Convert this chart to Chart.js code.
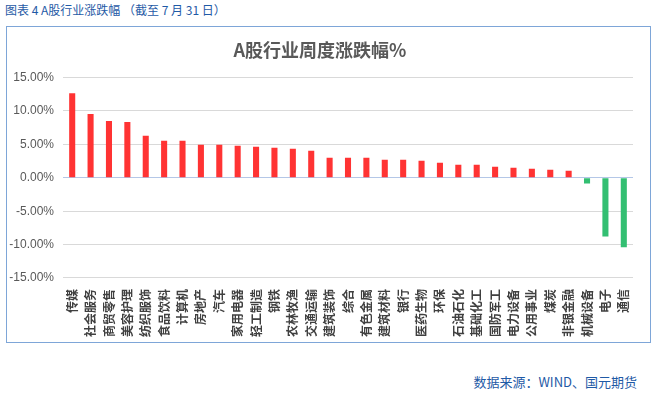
<!DOCTYPE html>
<html>
<head>
<meta charset="utf-8">
<script src="https://cdn.jsdelivr.net/npm/chart.js@4.4.0/dist/chart.umd.min.js"></script>
<style>
  html, body { margin: 0; padding: 0; background: #fff; width: 657px; height: 402px; overflow: hidden; }
  #hdr { position: absolute; left: 5px; top: 1px; font: 12px "Noto Sans CJK SC", sans-serif; color: #1f5aa6; white-space: pre; }
  #box { position: absolute; left: 6px; top: 26px; width: 643px; height: 315px; border: 1px solid #7ea6d8; }
  #ftr { position: absolute; right: 20px; top: 372px; font: 13px "Noto Sans CJK SC", sans-serif; color: #1f5aa6; white-space: pre; }
  canvas { display: block; }
</style>
</head>
<body>
<div id="hdr">图表 4 A股行业涨跌幅 （截至 7 月 31 日）</div>
<div id="box"><canvas id="c" width="643" height="315"></canvas></div>
<div id="ftr">数据来源：WIND、国元期货</div>
<script>
const categories = ["传媒","社会服务","商贸零售","美容护理","纺织服饰","食品饮料","计算机","房地产","汽车","家用电器","轻工制造","钢铁","农林牧渔","交通运输","建筑装饰","综合","有色金属","建筑材料","银行","医药生物","环保","石油石化","基础化工","国防军工","电力设备","公用事业","煤炭","非银金融","机械设备","电子","通信"];
const weeklyChange = [12.67,9.55,8.51,8.37,6.28,5.54,5.54,4.95,4.95,4.80,4.65,4.50,4.35,4.05,3.00,3.00,3.00,2.72,2.72,2.57,2.27,1.97,1.97,1.67,1.52,1.37,1.22,1.07,-0.85,-8.80,-10.40];
const yTicks = [-15,-10,-5,0,5,10,15];
const chartTitle = "A股行业周度涨跌幅%";

new Chart(document.getElementById('c'), {
  type: 'bar',
  data: {
    labels: categories,
    datasets: [{
      data: weeklyChange,
      backgroundColor: weeklyChange.map(v => v >= 0 ? '#ff3333' : '#33bf72'),
      categoryPercentage: 1.0,
      barPercentage: 0.33
    }]
  },
  options: {
    responsive: false,
    animation: false,
    devicePixelRatio: 1,
    layout: { padding: { left: 0, right: 17, top: 4, bottom: 2 } },
    plugins: {
      legend: { display: false },
      tooltip: { enabled: false },
      title: {
        display: true,
        text: chartTitle,
        color: '#595959',
        font: { family: '"Noto Sans CJK SC", sans-serif', size: 18, weight: 'bold' },
        padding: { top: 8, bottom: 17 }
      }
    },
    scales: {
      x: {
        grid: { display: false },
        border: { display: false },
        ticks: {
          autoSkip: false,
          maxRotation: 90,
          minRotation: 90,
          padding: 3,
          color: '#404040',
          font: { family: '"Noto Sans CJK SC", sans-serif', size: 12, weight: 'bold' }
        }
      },
      y: {
        min: -15,
        max: 15,
        afterBuildTicks: (axis) => { axis.ticks = yTicks.map(v => ({ value: v })); },
        afterFit: (axis) => { axis.width = 56; },
        grid: {
          drawTicks: false,
          color: (ctx) => ctx.tick && ctx.tick.value === 0 ? '#b4c7e7' : '#d9d9d9',
          lineWidth: 1
        },
        border: { display: false },
        ticks: {
          padding: 9,
          color: '#595959',
          font: { family: '"Liberation Sans", Arial, sans-serif', size: 12 },
          callback: (v) => v.toFixed(2) + '%'
        }
      }
    }
  }
});
</script>
</body>
</html>
